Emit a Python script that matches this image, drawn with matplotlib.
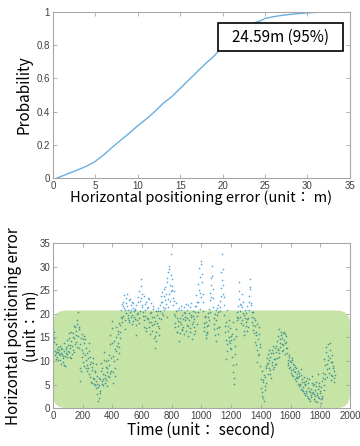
import numpy as np
import matplotlib.pyplot as plt
from matplotlib.patches import FancyBboxPatch, Rectangle

plt.rcParams['font.family'] = ['Noto Sans CJK KR', 'DejaVu Sans']

# CDF of horizontal positioning error
cdf_err = [0.5, 1, 2, 3, 4, 5, 6, 7, 8, 9, 10, 11, 12, 13, 14, 15, 16, 17, 18, 19,
           20, 21, 22, 23, 24, 24.59, 25, 26, 27, 28, 29, 30, 31, 32, 33]
cdf_prob = [0, 0.01, 0.03, 0.05, 0.072, 0.10, 0.14, 0.185, 0.228, 0.27, 0.315, 0.355,
            0.40, 0.45, 0.49, 0.54, 0.59, 0.64, 0.69, 0.735, 0.795, 0.845, 0.885,
            0.915, 0.94, 0.95, 0.962, 0.972, 0.98, 0.986, 0.991, 0.995, 0.998, 1.0, 1.0]
label_95 = "24.59m (95%)"

# error samples at 0, 5, 10 ... 1895 s
err_a = [
    15.5, 16.2, 14.8, 12.1, 11.6, 12.5, 10.8, 11.9, 12.4, 11.2, 10.3, 12.8, 11.5, 9.8, 11.0, 12.2, 8.9, 11.7, 12.6, 10.9,
    13.4, 11.8, 15.9, 12.7, 10.6, 14.3, 13.1, 16.0, 11.9, 14.8, 17.2, 15.6, 12.9, 17.8, 20.4, 16.7, 5.8, 13.6, 7.9, 12.4,
    14.6, 9.7, 15.2, 11.3, 8.4, 12.8, 9.1, 10.6, 7.2, 13.9, 6.5, 9.8, 8.1, 5.4, 10.7, 6.2, 5.0, 7.6, 4.3, 6.8,
    2.9, 1.5, 4.8, 3.6, 6.1, 9.5, 5.7, 7.3, 4.9, 11.8, 6.4, 8.8, 5.9, 7.7, 10.2, 6.6, 9.1, 13.5, 7.8, 16.9,
    18.4, 5.3, 9.9, 12.6, 6.9, 15.1, 10.4, 13.8, 16.3, 11.7, 14.9, 17.6, 20.8, 18.2, 22.5, 19.6, 21.3, 16.8, 23.4, 20.1,
    21.7, 19.2, 22.9, 18.6, 20.4, 21.8, 17.9, 19.7, 22.3, 20.6, 18.8, 21.1, 15.4, 19.9, 23.6, 20.2, 18.1, 22.8, 25.9, 27.4,
    21.9, 19.5, 23.7, 17.2, 20.8, 22.6, 16.4, 19.1, 21.4, 18.3, 23.1, 15.8, 20.3, 17.7, 19.4, 21.6, 14.9, 18.5, 12.7, 16.2,
    19.8, 17.4, 21.2, 15.6, 20.5, 22.4, 18.9, 24.6, 21.5, 23.8, 20.9, 25.7, 22.1, 19.3, 26.8, 28.9, 24.2, 30.1, 22.7, 32.6,
    27.3, 25.1, 21.8, 24.9, 19.6, 17.3, 22.2, 16.1, 20.7, 18.4, 14.3, 19.2, 17.8, 21.6, 16.5, 18.9, 20.3, 15.7, 19.4, 22.1,
    17.6, 20.8, 15.3, 18.7, 21.4, 16.9, 19.8, 14.6, 18.2, 20.5, 17.1, 21.7, 16.4, 23.9, 19.5, 26.3, 22.6, 29.8, 24.4, 31.2,
    30.6, 26.8, 22.4, 18.1, 16.3, 19.6, 14.8, 17.4, 15.9, 20.2, 18.7, 22.9, 24.5, 27.6, 30.2, 23.3, 21.5, 16.7, 19.9, 14.2,
    18.6, 21.3, 15.8, 20.4, 17.1, 22.7, 25.4, 28.8, 32.7, 26.1, 23.5, 19.7, 16.2, 10.4, 20.9, 13.6, 17.5, 15.1, 12.8, 16.9,
    14.4, 10.9, 18.3, 7.6, 5.1, 13.2, 9.4, 16.8, 19.3, 21.7, 23.2, 26.7, 20.6, 18.1, 24.1, 21.4, 17.6, 19.8, 15.5, 20.7,
    18.2, 16.4, 21.6, 19.1, 23.8, 27.3, 25.2, 21.9, 19.4, 17.7, 20.3, 15.9, 18.6, 13.4, 16.1, 9.8, 14.7, 11.5, 17.2, 12.9,
    4.3, 7.8, 2.6, 5.5, 1.4, 6.7, 3.9, 8.4, 10.7, 7.2, 9.6, 12.3, 8.1, 10.9, 6.4, 9.2, 11.6, 13.1, 8.8, 10.5,
    11.9, 9.3, 14.2, 12.6, 16.8, 10.8, 13.7, 15.4, 12.1, 14.8, 13.3, 16.1, 11.4, 13.9, 15.2, 12.7, 10.2, 9.6, 11.3, 8.7,
    9.8, 7.4, 10.6, 8.2, 6.9, 9.1, 7.7, 5.8, 8.5, 6.3, 7.9, 4.6, 6.8, 5.2, 8.3, 3.8, 6.1, 4.4, 5.6, 2.7,
    4.9, 3.2, 6.4, 2.1, 5.3, 3.7, 1.6, 4.1, 2.8, 6.9, 3.4, 1.9, 5.1, 2.5, 4.6, 1.2, 3.3, 7.2, 2.2, 4.7,
    3.1, 1.0, 5.8, 2.6, 7.4, 3.9, 9.2, 6.1, 11.8, 8.3, 13.6, 10.1, 7.5, 12.4, 9.7, 5.9, 11.2, 8.6, 6.3, 7.8,
]
# error samples at 2.5, 7.5, 12.5 ... 1897.5 s
err_b = [
    12.3, 14.1, 11.2, 13.5, 10.4, 11.8, 12.9, 10.1, 11.4, 13.2, 11.7, 9.4, 12.6, 10.7, 13.8, 9.2, 11.1, 13.0, 11.5, 14.4,
    12.2, 14.9, 10.9, 13.3, 16.2, 11.4, 15.1, 12.3, 17.4, 13.6, 16.4, 14.1, 18.6, 15.2, 17.1, 12.8, 8.6, 14.9, 10.8, 15.7,
    11.6, 13.8, 8.9, 14.7, 10.2, 7.8, 11.7, 8.6, 12.1, 9.3, 10.9, 5.6, 8.7, 6.4, 9.6, 5.1, 7.9, 5.7, 9.3, 5.2,
    4.4, 2.2, 6.3, 3.1, 7.9, 5.2, 8.6, 6.1, 10.3, 5.4, 7.1, 9.9, 4.7, 8.4, 6.8, 11.2, 7.5, 15.6, 10.7, 13.9,
    11.1, 7.6, 14.3, 8.4, 12.2, 17.3, 13.2, 15.8, 12.9, 18.1, 16.2, 19.4, 22.1, 19.1, 21.6, 23.9, 18.7, 20.9, 22.2, 24.1,
    19.8, 20.9, 18.3, 23.1, 19.4, 20.7, 22.6, 18.4, 21.2, 19.3, 20.8, 17.6, 21.9, 18.7, 22.4, 19.1, 24.8, 20.6, 23.3, 21.4,
    24.2, 20.4, 18.7, 22.1, 19.6, 16.9, 21.2, 18.8, 23.4, 17.1, 20.1, 22.3, 18.2, 16.4, 21.1, 17.9, 19.3, 15.2, 20.6, 14.3,
    18.1, 20.6, 16.9, 19.2, 21.8, 23.7, 20.2, 22.6, 19.8, 25.3, 22.9, 21.3, 24.1, 27.6, 23.2, 21.4, 29.4, 26.1, 24.8, 28.2,
    25.8, 23.4, 19.9, 22.8, 18.1, 20.6, 16.2, 19.1, 17.4, 21.2, 15.9, 18.3, 20.9, 16.8, 19.7, 17.2, 21.4, 18.6, 20.1, 16.3,
    19.2, 21.9, 17.4, 20.1, 16.2, 19.4, 22.3, 17.9, 19.6, 15.8, 18.9, 20.4, 21.6, 17.8, 22.4, 20.3, 25.1, 21.1, 27.8, 23.6,
    28.4, 24.1, 20.6, 17.2, 19.3, 15.4, 18.2, 16.1, 19.4, 17.6, 21.1, 20.4, 26.2, 23.6, 28.1, 25.2, 19.2, 17.9, 15.6, 20.7,
    16.9, 19.8, 21.9, 17.3, 20.6, 21.4, 23.8, 27.2, 29.6, 24.3, 21.8, 17.4, 14.4, 18.2, 12.1, 16.4, 14.2, 18.7, 13.9, 15.3,
    12.6, 15.7, 9.1, 14.6, 6.3, 11.4, 15.2, 18.6, 20.4, 19.2, 24.8, 22.1, 19.4, 21.8, 18.7, 20.2, 22.6, 16.3, 19.1, 17.4,
    20.1, 18.9, 17.2, 22.4, 20.7, 25.6, 22.3, 20.4, 18.3, 16.6, 19.2, 14.1, 17.4, 15.6, 12.3, 17.9, 11.2, 15.8, 13.6, 8.9,
    6.2, 3.4, 5.9, 2.1, 7.1, 4.6, 8.9, 5.4, 9.3, 11.4, 8.4, 10.2, 7.3, 11.7, 9.8, 12.4, 8.2, 10.4, 12.7, 9.4,
    13.1, 10.6, 12.3, 15.3, 11.6, 14.6, 12.9, 16.2, 13.5, 15.9, 12.4, 14.5, 15.7, 12.8, 14.1, 11.6, 9.1, 10.8, 8.4, 9.9,
    8.1, 10.2, 7.1, 9.4, 7.8, 6.2, 8.8, 6.6, 7.3, 5.1, 6.6, 7.4, 4.9, 7.1, 4.1, 5.5, 3.6, 6.7, 3.1, 5.1,
    3.6, 5.8, 2.6, 4.3, 1.9, 6.1, 3.4, 2.3, 5.4, 3.1, 4.8, 2.9, 3.8, 1.5, 5.6, 2.7, 4.1, 2.4, 5.3, 3.6,
    1.9, 4.4, 2.1, 6.3, 4.8, 10.4, 7.2, 12.9, 9.4, 6.7, 11.1, 8.6, 13.8, 10.6, 7.1, 9.8, 6.8, 8.9, 5.6, 7.1,
]
time_step = 5
band_top = 20.7  # upper edge of the green highlight

t = np.concatenate([np.arange(len(err_a)) * time_step,
                    np.arange(len(err_b)) * time_step + time_step / 2])
err = np.array(err_a + err_b)

fig = plt.figure(figsize=(3.6, 4.46), dpi=100)
tick_col = '#404040'
spine_col = '#a6a6a6'
tick_font = ['Liberation Sans Narrow', 'Liberation Sans', 'DejaVu Sans']

def style(ax):
    for s in ax.spines.values():
        s.set_color(spine_col)
        s.set_linewidth(0.8)
    ax.tick_params(direction='in', length=3, width=0.6, color=spine_col,
                   labelsize=7, labelcolor=tick_col, top=True, right=True, pad=2)
    for lab in ax.get_xticklabels() + ax.get_yticklabels():
        lab.set_family(tick_font)

# top: CDF
ax1 = fig.add_axes([0.147, 0.601, 0.825, 0.372])
ax1.plot(cdf_err, cdf_prob, color='#6aaee0', lw=1)
ax1.set_xlim(0, 35)
ax1.set_ylim(0, 1)
ax1.set_xticks(range(0, 36, 5))
ax1.set_yticks([0, 0.2, 0.4, 0.6, 0.8, 1])
ax1.set_yticklabels(['0', '0.2', '0.4', '0.6', '0.8', '1'])
ax1.set_xlabel('Horizontal positioning error (unit： m)', fontsize=10.5, labelpad=0)
ax1.set_ylabel('Probability', fontsize=11, labelpad=3)
style(ax1)

fig.add_artist(Rectangle((218 / 360, 1 - 51 / 446), 125 / 360, 28 / 446,
                         transform=fig.transFigure, facecolor='white',
                         edgecolor='black', lw=1.2, zorder=5))
fig.text(280.5 / 360, 1 - 37 / 446, label_95, ha='center', va='center',
         fontsize=11, zorder=6)

# bottom: error over time
ax2 = fig.add_axes([0.147, 0.085, 0.825, 0.370])
band = FancyBboxPatch((0, 0), 1, band_top / 35,
                      boxstyle='round,pad=0,rounding_size=0.045',
                      mutation_aspect=297 / 165, transform=ax2.transAxes,
                      facecolor='#c6e4a6', edgecolor='none', zorder=1)
ax2.add_patch(band)
inside = err < band_top
ax2.scatter(t[~inside], err[~inside], s=1.5, color='#5aa8e0', linewidths=0, zorder=2)
ax2.scatter(t[inside], err[inside], s=1.5, color='#469891', linewidths=0, zorder=2)
ax2.set_xlim(0, 2000)
ax2.set_ylim(0, 35)
ax2.set_xticks(range(0, 2001, 200))
ax2.set_yticks(range(0, 36, 5))
ax2.set_xlabel('Time (unit： second)', fontsize=11, labelpad=1)
style(ax2)
fig.text(14 / 360, 1 - 326 / 446, 'Horizontal positioning error',
         rotation=90, ha='center', va='center', fontsize=11)
fig.text(31 / 360, 1 - 326 / 446, '(unit： m)',
         rotation=90, ha='center', va='center', fontsize=11)

fig.savefig('out.png', dpi=100)
